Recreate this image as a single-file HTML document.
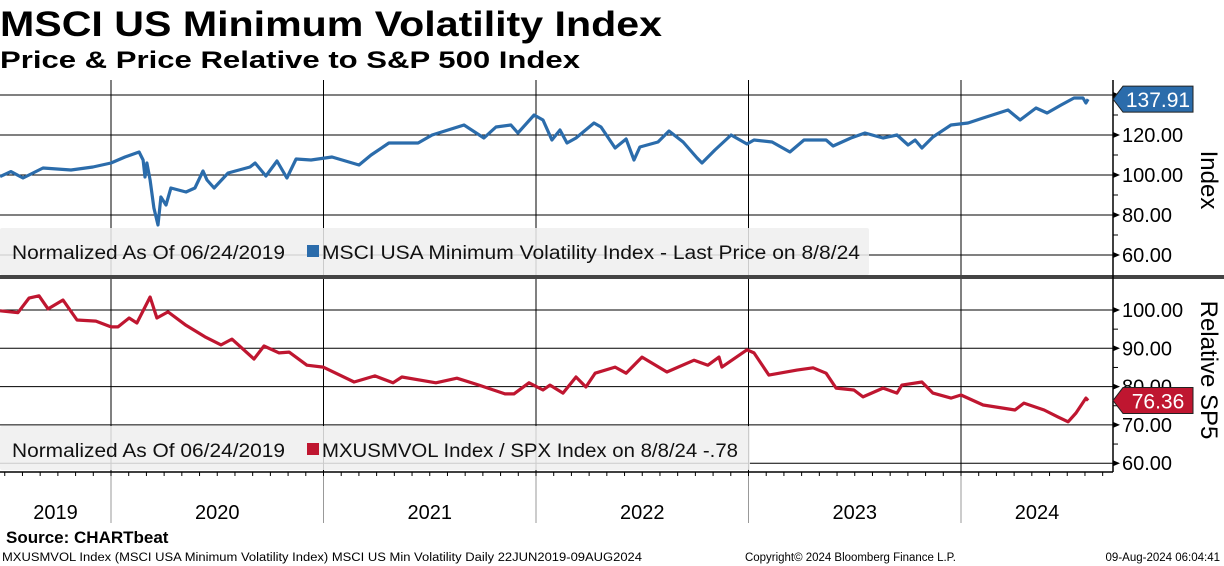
<!DOCTYPE html>
<html><head><meta charset="utf-8"><style>
html,body{margin:0;padding:0;background:#fff;}
svg{display:block;font-family:"Liberation Sans","DejaVu Sans",sans-serif;}
</style></head><body>
<svg id="chart" width="1224" height="566" viewBox="0 0 1224 566">
<text x="0" y="36" font-size="35" font-weight="bold" textLength="662" lengthAdjust="spacingAndGlyphs">MSCI US Minimum Volatility Index</text>
<text x="0" y="68" font-size="24" font-weight="bold" textLength="580" lengthAdjust="spacingAndGlyphs">Price &amp; Price Relative to S&amp;P 500 Index</text>
<g id="grid"></g>
<g id="series"></g>
<g id="overlay"></g>
<text x="6" y="543" font-size="17" font-weight="bold">Source: CHARTbeat</text>
<text x="2" y="561" font-size="11.5" textLength="640" lengthAdjust="spacingAndGlyphs">MXUSMVOL Index (MSCI USA Minimum Volatility Index) MSCI US Min Volatility  Daily 22JUN2019-09AUG2024</text>
<text x="745" y="561" font-size="11.5" textLength="211" lengthAdjust="spacingAndGlyphs">Copyright© 2024 Bloomberg Finance L.P.</text>
<text x="1220" y="561" font-size="11.5" text-anchor="end">09-Aug-2024 06:04:41</text>
</svg>
<script>
const priceDates=[2019.478,2019.529,2019.586,2019.680,2019.812,2019.915,2020.000,2020.066,2020.132,2020.151,2020.160,2020.169,2020.184,2020.202,2020.221,2020.235,2020.259,2020.282,2020.353,2020.395,2020.433,2020.452,2020.485,2020.551,2020.654,2020.678,2020.729,2020.781,2020.828,2020.871,2020.941,2021.040,2021.167,2021.224,2021.308,2021.445,2021.511,2021.661,2021.755,2021.812,2021.882,2021.915,2021.991,2022.033,2022.075,2022.113,2022.146,2022.188,2022.273,2022.306,2022.372,2022.424,2022.461,2022.489,2022.574,2022.626,2022.692,2022.758,2022.781,2022.842,2022.918,2022.993,2023.026,2023.111,2023.195,2023.261,2023.365,2023.398,2023.482,2023.548,2023.633,2023.699,2023.751,2023.784,2023.816,2023.868,2023.953,2024.033,2024.104,2024.221,2024.278,2024.353,2024.405,2024.471,2024.532,2024.574,2024.588,2024.598];
const priceValues=[99.2,101.7,98.5,103.5,102.5,104,106,109,111.5,107.5,99,106,97.5,83.5,75,89,85,93.5,91.5,93.5,102,97.5,93.5,101,104,106,99.5,107,98.5,108,107.5,109,105,110,116,116,120,125,118.5,124,125,121,130,127.5,117.5,122.5,116,118.5,126,124,113.5,118,107.5,114,116.5,122,116.5,108.5,106,112.5,120,115.5,117.5,116.5,111.5,117.5,117.5,114.5,118.5,121,118.5,120,115,117.5,113.5,119,125,126,128.5,132.5,127.5,133.5,131,135,138.5,138.5,136,137.91];
const relDates=[2019.478,2019.562,2019.614,2019.661,2019.704,2019.774,2019.840,2019.929,2020.000,2020.033,2020.085,2020.122,2020.184,2020.216,2020.268,2020.353,2020.442,2020.518,2020.569,2020.673,2020.720,2020.791,2020.838,2020.922,2020.998,2021.144,2021.242,2021.327,2021.369,2021.529,2021.628,2021.732,2021.854,2021.896,2021.967,2022.033,2022.066,2022.127,2022.188,2022.235,2022.278,2022.372,2022.424,2022.499,2022.616,2022.744,2022.809,2022.861,2022.875,2022.993,2023.026,2023.096,2023.228,2023.304,2023.365,2023.412,2023.496,2023.539,2023.633,2023.699,2023.722,2023.816,2023.868,2023.953,2024.000,2024.104,2024.254,2024.296,2024.391,2024.456,2024.504,2024.541,2024.588,2024.598];
const relValues=[99.8,99.3,103.1,103.7,100.3,102.6,97.4,97.1,95.6,95.6,97.9,96.6,103.4,97.9,99.5,96,93,90.9,92.4,87.2,90.6,88.8,89.0,85.6,85.1,81.2,82.8,81.0,82.5,81.0,82.2,80.4,78.1,78.1,81,79.1,80.4,78.3,82.5,79.9,83.5,85.1,83.5,87.7,83.8,86.9,85.6,87.7,85.1,89.6,88.8,83.0,84.3,84.9,83.5,79.6,79.1,77.3,79.6,78.3,80.4,81.2,78.3,77.0,77.8,75.2,73.9,75.7,73.9,72.1,70.8,73.1,77.0,76.36];
const priceTicks=[140,120,100,80,60];
const priceTickLabels=["","120.00","100.00","80.00","60.00"];
const relTicks=[100,90,80,70,60];
const relTickLabels=["100.00","90.00","80.00","70.00","60.00"];
const years=[2019,2020,2021,2022,2023,2024];
const lastPrice="137.91";
const lastRel="76.36";

const NS="http://www.w3.org/2000/svg";
const PL=0,PR=1113;
const xs=t=>111+(t-2020)*212.5;
const yTop=v=>175-(v-100)*2;
const yBot=v=>310+(100-v)*3.83;
function mk(tag,attrs,parent){const e=document.createElementNS(NS,tag);for(const k in attrs)e.setAttribute(k,attrs[k]);parent.appendChild(e);return e;}
const grid=document.getElementById('grid'),ser=document.getElementById('series'),ov=document.getElementById('overlay');

for(let i=1;i<years.length;i++){const x=xs(years[i]);
 const l=mk('line',{x1:x,x2:x,y1:80,y2:472,stroke:'#000','stroke-width':1},grid);
 
 
 const l2=mk('line',{x1:x,x2:x,y1:472,y2:523,stroke:'#999','stroke-width':1},grid);
 
 
}
function axis(ticks,labels,yf,nm){
 ticks.forEach((v,i)=>{const y=yf(v);
  const g=mk('line',{x1:PL,x2:PR,y1:y,y2:y,stroke:'#000','stroke-width':1},grid);
  
  
  const tr=mk('polygon',{points:`${PR},${y-3} ${PR+7},${y} ${PR},${y+3}`,fill:'#000'},grid);
  
  
  if(labels[i]){const t=mk('text',{x:1122,y:y+7,'font-size':20},ov);t.textContent=labels[i];
  
  }
  if(i<ticks.length-1){const ym=(y+yf(ticks[i+1]))/2;
   const m=mk('line',{x1:PR,x2:PR+5,y1:ym,y2:ym,stroke:'#000'},grid);
   
   }
 });
}
axis(priceTicks,priceTickLabels,yTop,'price-axis');
axis(relTicks,relTickLabels,yBot,'relative-axis');

function line(d,v,yf,col,nm){const p=d.map((t,i)=>(i?'L':'M')+xs(t).toFixed(1)+','+yf(v[i]).toFixed(1)).join('');
 const e=mk('path',{d:p,fill:'none',stroke:col,'stroke-width':3.2,'stroke-linejoin':'round'},ser);
 
 }
line(priceDates,priceValues,yTop,'#2b6cab','price-line');
line(relDates,relValues,yBot,'#bf1630','relative-line');

function legend(x,y,w,h,col,label,lw,nm){
 const r=mk('rect',{x:x,y:y,width:w,height:h,fill:'#efefef','fill-opacity':0.85,rx:2},ov);
 
 
 const t1=mk('text',{x:12,y:y+31,'font-size':19,fill:'#111',textLength:273,lengthAdjust:'spacingAndGlyphs'},ov);t1.textContent='Normalized As Of 06/24/2019';
 
 
 const s=mk('rect',{x:307,y:y+17,width:12,height:12,fill:col},ov);
 
 
 const t2=mk('text',{x:322,y:y+31,'font-size':19,fill:'#111',textLength:lw,lengthAdjust:'spacingAndGlyphs'},ov);t2.textContent=label;
 
 
}
legend(0,228,869,47,'#2b6cab','MSCI USA Minimum Volatility Index - Last Price on 8/8/24',538,'price-legend');
legend(0,426,750,44,'#bf1630','MXUSMVOL Index / SPX Index on 8/8/24 -.78',416,'relative-legend');

const dv=mk('rect',{x:0,y:275,width:1224,height:4,fill:'#444'},ov);


const ax=mk('line',{x1:PR,x2:PR,y1:80,y2:472,stroke:'#000','stroke-width':1.5},ov);


const bx=mk('line',{x1:0,x2:PR,y1:472,y2:472,stroke:'#000','stroke-width':1.5},ov);


for(let y=2019;y<=2024;y++)for(let m=0;m<12;m++){const x=xs(y+m/12);if(x<2||x>PR)continue;
 const t=mk('line',{x1:x,x2:x,y1:472,y2:476,stroke:'#000'},ov);
 
 }
years.forEach(y=>{const a=Math.max(0,xs(y)),b=Math.min(PR,xs(y+1));
 const t=mk('text',{x:(a+b)/2,y:519,'font-size':20,'text-anchor':'middle'},ov);t.textContent=String(y);
 
 });

const it=mk('text',{x:1201,y:180,'font-size':24,'text-anchor':'middle',transform:'rotate(90 1201 180)'},ov);it.textContent='Index';


const rt=mk('text',{x:1201,y:370,'font-size':24,'text-anchor':'middle',transform:'rotate(90 1201 370)'},ov);rt.textContent='Relative SP5';



function badge(yc,col,txt,nm){
 const p=mk('polygon',{points:`1113,${yc} 1123,${yc-13} 1193,${yc-13} 1193,${yc+13} 1123,${yc+13}`,fill:col,stroke:'#222','stroke-width':1},ov);
 
 
 const t=mk('text',{x:1158,y:yc+8,'font-size':21,fill:'#fff','text-anchor':'middle'},ov);t.textContent=txt;
 
 
}
badge(yTop(priceValues[priceValues.length-1]),'#2b6cab',lastPrice,'last-price');
badge(yBot(relValues[relValues.length-1]),'#bf1630',lastRel,'last-relative');
</script>
</body></html>
